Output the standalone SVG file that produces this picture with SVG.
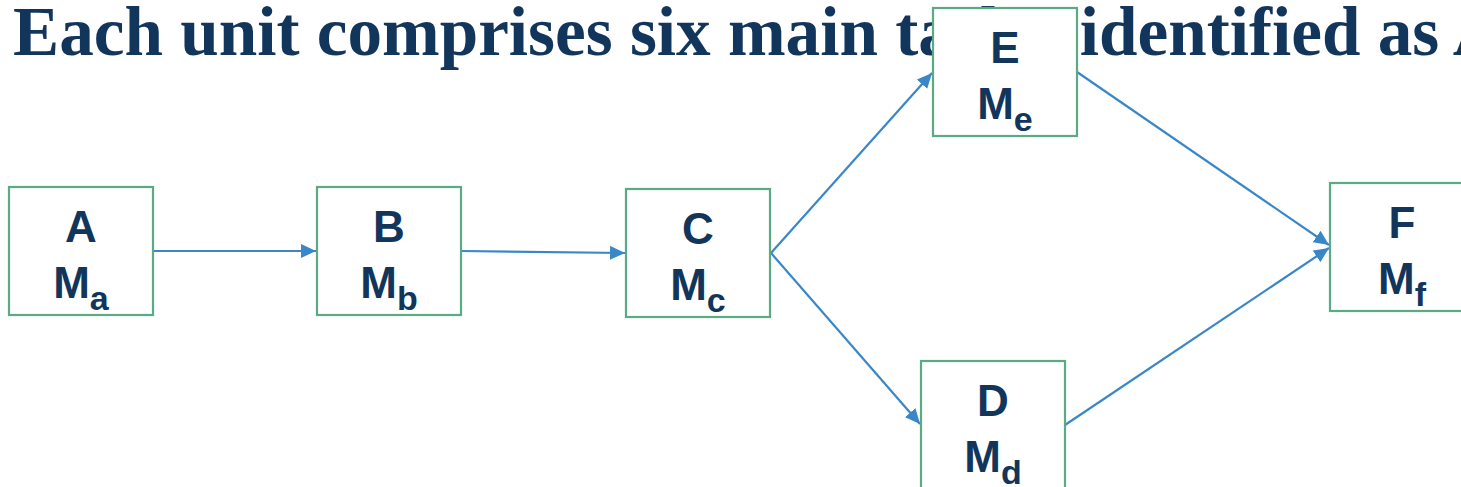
<svg xmlns="http://www.w3.org/2000/svg" width="1461" height="487" viewBox="0 0 1461 487">
  <style>
    .title { font-family: "Liberation Serif", "Times New Roman", serif; font-weight: bold; font-size: 69.2px; fill: #12355b; }
    .box { fill: #ffffff; stroke: #5aaa84; stroke-width: 2.2; }
    .lbl { font-family: "Liberation Sans", Arial, sans-serif; font-weight: bold; font-size: 44px; fill: #12355b; text-anchor: middle; }
    .sub { font-size: 34px; }
    .conn { stroke: #3a87c8; stroke-width: 2.2; fill: none; marker-end: url(#arrow); }
  </style>
  <defs>
    <marker id="arrow" markerUnits="userSpaceOnUse" markerWidth="16" markerHeight="14" refX="15" refY="7" orient="auto">
      <path d="M0,0 L15,7 L0,14 Z" fill="#3a87c8"/>
    </marker>
  </defs>
  <rect width="1461" height="487" fill="#ffffff"/>
  <text class="title" x="13" y="55">Each unit comprises six main tasks, identified as A</text>
  <g id="connectors">
    <line class="conn" x1="153" y1="251" x2="316" y2="251"/>
    <line class="conn" x1="461" y1="251" x2="625" y2="253"/>
    <line class="conn" x1="771" y1="253" x2="932" y2="73"/>
    <line class="conn" x1="771" y1="253" x2="920" y2="424"/>
    <line class="conn" x1="1077" y1="72" x2="1329" y2="245"/>
    <line class="conn" x1="1065" y1="425" x2="1329" y2="248"/>
  </g>
  <g id="node-A">
    <rect class="box" x="9" y="187" width="144" height="128"/>
    <text class="lbl" x="81" y="242">A</text>
    <text class="lbl" x="81" y="298">M<tspan class="sub" dy="12">a</tspan></text>
  </g>
  <g id="node-B">
    <rect class="box" x="317" y="187" width="144" height="128"/>
    <text class="lbl" x="389" y="242">B</text>
    <text class="lbl" x="389" y="298">M<tspan class="sub" dy="12">b</tspan></text>
  </g>
  <g id="node-C">
    <rect class="box" x="626" y="189" width="144" height="128"/>
    <text class="lbl" x="698" y="244">C</text>
    <text class="lbl" x="698" y="300">M<tspan class="sub" dy="12">c</tspan></text>
  </g>
  <g id="node-E">
    <rect class="box" x="933" y="8" width="144" height="128"/>
    <text class="lbl" x="1005" y="63">E</text>
    <text class="lbl" x="1005" y="119">M<tspan class="sub" dy="12">e</tspan></text>
  </g>
  <g id="node-D">
    <rect class="box" x="921" y="361" width="144" height="128"/>
    <text class="lbl" x="993" y="416">D</text>
    <text class="lbl" x="993" y="472">M<tspan class="sub" dy="12">d</tspan></text>
  </g>
  <g id="node-F">
    <rect class="box" x="1330" y="183" width="144" height="128"/>
    <text class="lbl" x="1402" y="238">F</text>
    <text class="lbl" x="1402" y="294">M<tspan class="sub" dy="12">f</tspan></text>
  </g>
</svg>
